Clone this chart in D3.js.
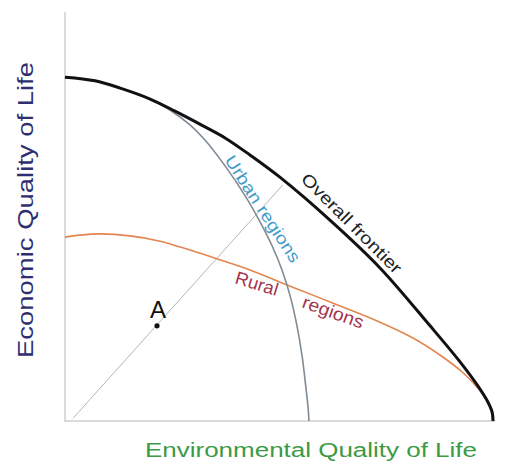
<!DOCTYPE html>
<html lang="en">
<head>
<meta charset="UTF-8" />
<title>Quality of life frontiers</title>
<script src="https://d3js.org/d3.v7.min.js"></script>
<style>
    body { margin: 0; background: #fff; }
    svg { display: block; font-family: "Liberation Sans", Arial, sans-serif; }
</style>
</head>
<body>
<svg id="chart" width="510" height="470"></svg>
<script>
    // points, environmental (x) vs economic (y), both 0..100
    const frontierX = [0, 7.0, 12.9, 19.9, 25.7, 31.5, 37.4, 43.2, 50.2, 61.9, 73.6, 85.3, 92.3, 96.5, 98.8, 99.8, 100];
    const frontierY = [84.9, 84.0, 82.2, 79.5, 76.5, 73.3, 69.9, 65.7, 60.2, 49.6, 37.8, 23.5, 14.6, 8.6, 4.7, 2.2, 0];

    const urbanX = [0, 7.0, 12.9, 19.9, 24.5, 29.2, 32.7, 37.4, 42.1, 45.6, 48.4, 50.7, 52.6, 54.2, 55.4, 56.3, 56.8, 57.0];
    const urbanY = [84.9, 84.0, 82.2, 79.5, 76.8, 73.1, 69.4, 63.0, 55.6, 49.1, 43.2, 37.3, 30.9, 23.5, 16.0, 8.1, 3.2, 0];

    const ruralX = [0, 3.5, 8.2, 15.2, 22.2, 29.2, 36.2, 43.2, 52.6, 63.1, 73.6, 81.3, 87.6, 92.8, 96.5, 98.6, 99.5, 100];
    const ruralY = [45.4, 45.9, 46.2, 45.7, 44.4, 42.2, 39.8, 37.3, 33.3, 28.9, 24.4, 20.5, 16.3, 12.1, 8.1, 5.2, 2.7, 0];

    const rayX = [1.9, 50.9];
    const rayY = [0.7, 58.3];

    const pointA = { x: 21.5, y: 23.5, label: "A" };

    const xTitle = "Environmental Quality of Life";
    const yTitle = "Economic Quality of Life";

    const svg = d3.select("#chart");

    const x = d3.scaleLinear().domain([0, 100]).range([65, 493]);
    const y = d3.scaleLinear().domain([0, 100]).range([421, 16]);

    const zip = (xs, ys) => xs.map((v, i) => [v, ys[i]]);
    const line = d3.line()
        .x(d => x(d[0]))
        .y(d => y(d[1]))
        .curve(d3.curveCatmullRom.alpha(0.5));

    // axes (plain lines, no ticks)
    svg.append("line")
        .attr("x1", x(0)).attr("x2", x(0))
        .attr("y1", y(0) + 1).attr("y2", y(101))
        .attr("stroke", "#cfcfcf").attr("stroke-width", 1.5);
    svg.append("line")
        .attr("x1", x(0)).attr("x2", x(100.5))
        .attr("y1", y(0)).attr("y2", y(0))
        .attr("stroke", "#cfcfcf").attr("stroke-width", 1.5);

    // ray from the origin through A
    svg.append("path")
        .datum(zip(rayX, rayY))
        .attr("d", d3.line().x(d => x(d[0])).y(d => y(d[1])))
        .attr("fill", "none")
        .attr("stroke", "#b5b5b5")
        .attr("stroke-width", 1);

    svg.append("path")
        .datum(zip(ruralX, ruralY))
        .attr("d", line)
        .attr("fill", "none")
        .attr("stroke", "#e3864f")
        .attr("stroke-width", 1.6);

    svg.append("path")
        .datum(zip(urbanX, urbanY))
        .attr("d", line)
        .attr("fill", "none")
        .attr("stroke", "#7f8b95")
        .attr("stroke-width", 1.6);

    svg.append("path")
        .datum(zip(frontierX, frontierY))
        .attr("d", line)
        .attr("fill", "none")
        .attr("stroke", "#111")
        .attr("stroke-width", 3);

    // point A
    svg.append("circle")
        .attr("cx", x(pointA.x)).attr("cy", y(pointA.y))
        .attr("r", 2.6).attr("fill", "#111");
    svg.append("text")
        .attr("x", x(pointA.x) + 1).attr("y", y(pointA.y) - 8)
        .attr("text-anchor", "middle")
        .attr("font-size", 24)
        .attr("fill", "#111")
        .text(pointA.label);

    // curve labels
    function curveLabel(txt, px, py, angle, size, color, len) {
        svg.append("text")
            .attr("transform", `translate(${px},${py}) rotate(${angle})`)
            .attr("font-size", size)
            .attr("fill", color)
            .attr("textLength", len)
            .attr("lengthAdjust", "spacingAndGlyphs")
            .text(txt);
    }
    curveLabel("Urban regions", 224, 160, 57, 17, "#3f9cc9", 124);
    curveLabel("Overall frontier", 300, 180, 45, 17, "#222", 134);
    curveLabel("Rural", 234, 283, 17, 18, "#a3354c", 44);
    curveLabel("regions", 301, 307, 20, 18, "#a3354c", 64);

    // axis titles
    svg.append("text")
        .attr("x", 311).attr("y", 457)
        .attr("text-anchor", "middle")
        .attr("font-size", 20)
        .attr("fill", "#3c9a45")
        .attr("textLength", 332)
        .attr("lengthAdjust", "spacingAndGlyphs")
        .text(xTitle);

    svg.append("text")
        .attr("transform", "translate(33,210) rotate(-90)")
        .attr("text-anchor", "middle")
        .attr("font-size", 22)
        .attr("fill", "#2d2f70")
        .attr("textLength", 296)
        .attr("lengthAdjust", "spacingAndGlyphs")
        .text(yTitle);
</script>
</body>
</html>
